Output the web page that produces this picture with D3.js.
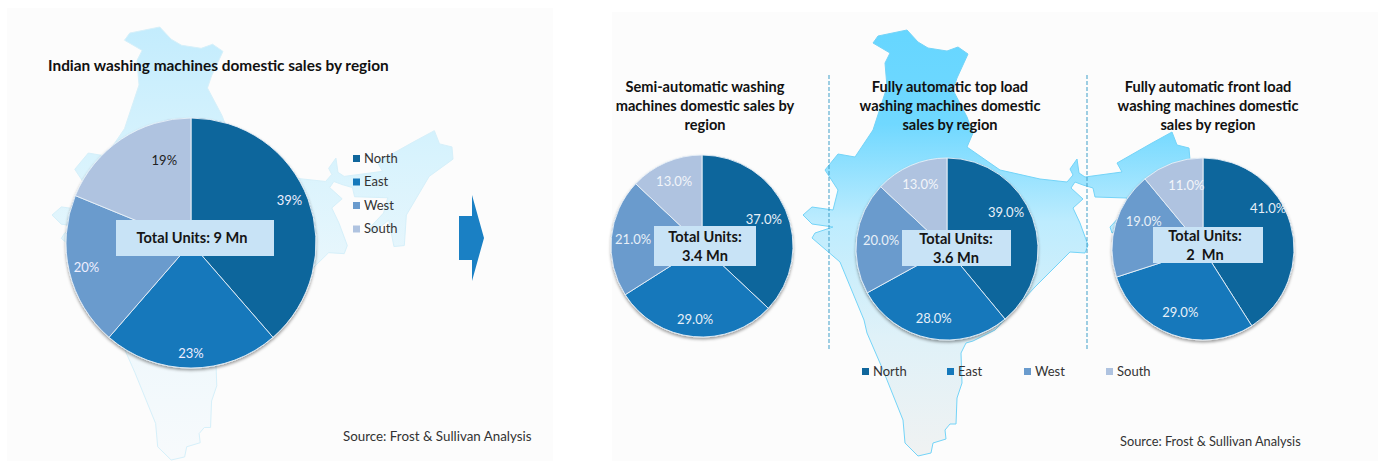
<!DOCTYPE html>
<html><head><meta charset="utf-8">
<script src="https://cdn.jsdelivr.net/npm/d3@7"></script>
<style>html,body{margin:0;padding:0;background:#fff}svg{display:block}text{font-family:Lato,"Open Sans",sans-serif;white-space:pre}</style>
</head><body><svg id="c" width="1378" height="461"></svg>
<script>
const regions = ["North","East","West","South"];
const colors = ["#10669c","#1478bb","#6a9bcd","#afc3e0"];
const overallValues = [39,23,20,19];
const overallLabels = ["39%","23%","20%","19%"];
const semiValues = [37,29,21,13];
const topValues = [39,28,20,13];
const frontValues = [41,29,19,11];
const indiaX = [873,878,907,918,928,947,958,968,957,953,967,973,967,1000,1040,1067,1073,1070,1077,1079,1085,1122,1117,1152,1172,1177,1189,1190,1167,1145,1143,1133,1128,1112,1110,1123,1127,1095,1093,1083,1075,1071,1083,1073,1080,1088,1085,1070,1035,995,973,966,961,962,957,956,950,945,946,933,931,918,905,903,883,867,864,840,812,815,833,812,803,812,833,838,825,838,855,873,887,885,890,873];
const indiaY = [43,36,30,42,48,51,47,54,78,90,117,133,147,170,179,182,175,169,159,173,177,172,163,143,132,145,148,160,177,215,245,246,220,233,227,213,198,197,188,185,182,188,199,208,223,245,253,252,287,330,341,343,353,383,398,424,424,430,439,443,453,456,443,420,370,333,320,262,238,233,227,224,215,207,210,190,170,154,157,130,87,63,53,43];

const svg = d3.select("#c");
const defs = svg.append("defs");
const f = defs.append("filter").attr("id","sh").attr("x","-10%").attr("y","-10%").attr("width","120%").attr("height","125%");
f.append("feDropShadow").attr("dx",0).attr("dy",2).attr("stdDeviation",1.6).attr("flood-color","#000").attr("flood-opacity",.38);
function grad(id,stops){const g=defs.append("linearGradient").attr("id",id).attr("x1",0).attr("y1",0).attr("x2",0).attr("y2",1);
 stops.forEach(s=>g.append("stop").attr("offset",s[0]).attr("stop-color",s[1]));}
grad("mapR",[[0,"#66d6ff"],[.22,"#70d8ff"],[.45,"#bdecfe"],[.72,"#dff1f8"],[1,"#f0f2f2"]]);
grad("mapL",[[0,"#c3ecfd"],[.3,"#d8f3fd"],[.6,"#ebf7fc"],[1,"#f7fafc"]]);

svg.append("rect").attr("x",7).attr("y",8).attr("width",546).attr("height",453).attr("fill","#fcfcfc");
svg.append("rect").attr("x",612).attr("y",12).attr("width",766).attr("height",449).attr("fill","#fcfcfc");

function drawMap(x0,x1,y0,y1,fill,stroke){
  const sx=d3.scaleLinear().domain(d3.extent(indiaX)).range([x0,x1]);
  const sy=d3.scaleLinear().domain(d3.extent(indiaY)).range([y0,y1]);
  const line=d3.line().x(i=>sx(indiaX[i])).y(i=>sy(indiaY[i]));
  svg.append("path").attr("d",line(d3.range(indiaX.length))).attr("fill",fill).attr("stroke",stroke).attr("stroke-width",1);
}
drawMap(52,453,27,460,"url(#mapL)","#d6f0fa");
drawMap(803,1190,30,456,"url(#mapR)","#74d4f8");

function text(x,y,s,size,weight,fill,anchor){
  return svg.append("text").attr("x",x).attr("y",y).text(s).attr("font-size",size).attr("font-weight",weight||400)
    .attr("fill",fill||"#222").attr("text-anchor",anchor||"start");
}
function drawPie(cx,cy,r,values,labels,fracs,shifts,labelColors,size){
  const g=svg.append("g").attr("transform",`translate(${cx},${cy})`).attr("filter","url(#sh)");
  const arcs=d3.pie().sort(null)(values);
  const arc=d3.arc().innerRadius(0).outerRadius(r);
  g.selectAll("path").data(arcs).join("path").attr("d",arc).attr("fill",(d,i)=>colors[i]).attr("stroke","#e8f0f8").attr("stroke-width",.9);
  arcs.forEach((d,i)=>{
    const a=(d.startAngle+d.endAngle)/2+shifts[i]*Math.PI/180, rr=r*fracs[i];
    text(cx+rr*Math.sin(a),cy-rr*Math.cos(a)+4.5,labels[i],size,400,labelColors[i],"middle");
  });
}
function box(x,y,w,h,lines,size,lh,tx){
  svg.append("rect").attr("x",x).attr("y",y).attr("width",w).attr("height",h).attr("fill","#c8e3f6");
  lines.forEach((s,i)=>text(tx,y+h/2+(i-(lines.length-1)/2)*lh+size*.35,s,size,700,"#151515","middle"));
}
// left panel
text(48,71,"Indian washing machines domestic sales by region",15.4,700,"#111");
drawPie(191,243,125,overallValues,overallLabels,[.857,.88,.86,.696],[-2.7,0,0,16],["#eef","#eef","#eef","#222"],13);
box(116,220,158,36,["Total Units: 9 Mn"],14.6,18,192);
regions.forEach((r,i)=>{
  const y=158+i*23.5;
  svg.append("rect").attr("x",353).attr("y",y-3).attr("width",7).attr("height",7).attr("fill",colors[i]);
  text(364,y+4.5,r,13,400,"#333");
});
// arrow
const arrowX=[459,472,472,484,472,472,459], arrowY=[216,216,195,238,281,260,260];
svg.append("path").attr("d",d3.line().x(i=>arrowX[i]).y(i=>arrowY[i])(d3.range(7))+"Z").attr("fill","#1a80c4");

// right panel
const fmt=d3.format(".1f");
const pct=v=>v.map(x=>fmt(x)+"%");
const lc=["#e8f0f8","#e8f0f8","#e8f0f8","#f2f5fa"];
[[705,"Semi-automatic washing","machines domestic sales by","region"],
 [950,"Fully automatic top load","washing machines domestic","sales by region"],
 [1208,"Fully automatic front load","washing machines domestic","sales by region"]].forEach(t=>{
  t.slice(1).forEach((s,i)=>text(t[0],92+i*19,s,14.6,700,"#111","middle"));
});
[829,1087].forEach(x=>svg.append("line").attr("x1",x).attr("x2",x).attr("y1",75).attr("y2",351).attr("stroke","#3f9fc9").attr("stroke-dasharray","4 2").attr("stroke-width",1));
drawPie(702,246,91,semiValues,pct(semiValues),[.74,.81,.76,.77],[0,0,0,0],lc,13);
drawPie(947,249,91,topValues,pct(topValues),[.76,.78,.73,.77],[-11.6,0,0,1],lc,13);
drawPie(1203,249,91,frontValues,pct(frontValues),[.845,.737,.72,.717],[-16,0,9,5],lc,13);
box(654,226,102,40,["Total Units:","3.4 Mn"],14.6,19,705);
box(902,230,109,36,["Total Units:","3.6 Mn"],14.6,19,956);
box(1153,227,110,36,["Total Units:","2  Mn"],14.6,19,1205);
const legX=[862,947,1024,1106];
regions.forEach((r,i)=>{
  svg.append("rect").attr("x",legX[i]).attr("y",368).attr("width",7).attr("height",7).attr("fill",colors[i]);
  text(legX[i]+11,376,r,13,400,"#333");
});
text(343,441,"Source: Frost & Sullivan Analysis",13.35,400,"#333");
text(1120,446,"Source: Frost & Sullivan Analysis",12.8,400,"#333");
</script></body></html>
